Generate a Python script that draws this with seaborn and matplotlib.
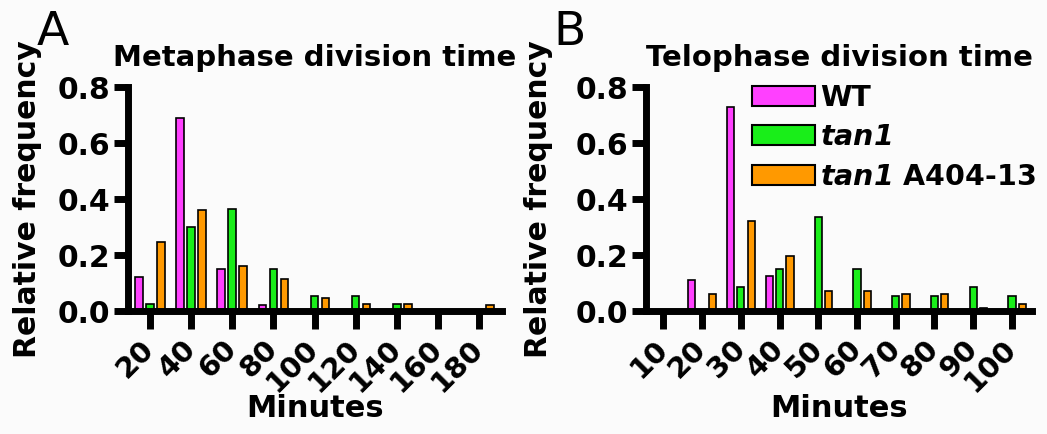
import matplotlib
matplotlib.use('Agg')
import matplotlib.pyplot as plt
import matplotlib.ticker as mticker
import seaborn as sns
import pandas as pd

# -----------------------------
# Data
# -----------------------------
genotypes = ['WT', 'tan1', 'tan1 A404-13']
legend_labels = ['WT', r'$tan1$', r'$tan1$ A404-13']
colors = ['#FF40FF', '#19EE19', '#FF9900']

# A: metaphase
meta_minutes = ['20', '40', '60', '80', '100', '120', '140', '160', '180']
meta_wt = [0.12, 0.69, 0.15, 0.02, 0.0, 0.0, 0.005, 0.0, 0.0]
meta_tan1 = [0.025, 0.30, 0.365, 0.15, 0.055, 0.055, 0.025, 0.0, 0.0]
meta_a404 = [0.245, 0.36, 0.16, 0.115, 0.045, 0.025, 0.025, 0.0, 0.02]

# B: telophase
telo_minutes = ['10', '20', '30', '40', '50', '60', '70', '80', '90', '100']
telo_wt = [0.0, 0.11, 0.73, 0.125, 0.0, 0.005, 0.0, 0.0, 0.0, 0.0]
telo_tan1 = [0.0, 0.0, 0.085, 0.15, 0.335, 0.15, 0.055, 0.055, 0.085, 0.055]
telo_a404 = [0.0, 0.062, 0.32, 0.195, 0.072, 0.072, 0.062, 0.062, 0.012, 0.025]


def long_table(minutes, *series):
    rows = []
    for g, vals in zip(genotypes, series):
        for m, v in zip(minutes, vals):
            rows.append({'Minutes': m, 'freq': v, 'genotype': g})
    return pd.DataFrame(rows)


df_meta = long_table(meta_minutes, meta_wt, meta_tan1, meta_a404)
df_telo = long_table(telo_minutes, telo_wt, telo_tan1, telo_a404)

sns.set_style('ticks')
plt.rcParams['font.family'] = ['DejaVu Sans']
plt.rcParams['font.weight'] = 'bold'
plt.rcParams['text.color'] = 'black'
plt.rcParams['axes.labelcolor'] = 'black'
plt.rcParams['axes.edgecolor'] = 'black'
plt.rcParams['xtick.color'] = 'black'
plt.rcParams['ytick.color'] = 'black'
# italic bold for the gene name (letters and digits) inside $...$
plt.rcParams['mathtext.fontset'] = 'custom'
plt.rcParams['mathtext.it'] = 'DejaVu Sans:italic:bold'
plt.rcParams['mathtext.rm'] = 'DejaVu Sans:italic:bold'

bg = '#fbfbfb'
fig = plt.figure(figsize=(10.47, 4.34), dpi=100, facecolor=bg)
ax_a = fig.add_axes([0.1225, 0.2834, 0.3566, 0.5161])
ax_b = fig.add_axes([0.617, 0.2834, 0.3687, 0.5161])


def draw(ax, df, order, title, xlim, ylab_x, show_legend):
    sns.barplot(data=df, x='Minutes', y='freq', hue='genotype', order=order,
                hue_order=genotypes, palette=colors, saturation=1, width=0.8, gap=0.3,
                edgecolor='black', linewidth=1.2, errorbar=None,
                legend=show_legend, ax=ax)
    ax.set_facecolor(bg)
    ax.set_ylim(0, 0.8)
    ax.set_yticks([0.0, 0.2, 0.4, 0.6, 0.8])
    ax.yaxis.set_major_formatter(mticker.FormatStrFormatter('%.1f'))
    ax.set_xlim(*xlim)
    sns.despine(ax=ax)
    for side in ['left', 'bottom']:
        ax.spines[side].set_linewidth(5)
    ax.tick_params(axis='x', length=13, width=5, labelsize=21, pad=11)
    ax.tick_params(axis='y', length=10, width=5, labelsize=21.5, pad=3)
    for lbl in ax.get_xticklabels():
        lbl.set_rotation(45)
        lbl.set_ha('right')
        lbl.set_va('center')
        lbl.set_rotation_mode('anchor')
    ax.set_title(title, fontsize=21, fontweight='bold', pad=15)
    ax.set_xlabel('Minutes', fontsize=22, fontweight='bold')
    ax.set_ylabel('Relative frequency', fontsize=21.5, fontweight='bold')
    ax.xaxis.set_label_coords(0.5, -0.37)
    ax.yaxis.set_label_coords(ylab_x, 0.5)


draw(ax_a, df_meta, meta_minutes, 'Metaphase division time', (-0.53, 8.55), -0.231, False)
draw(ax_b, df_telo, telo_minutes, 'Telophase division time', (-0.45, 9.52), -0.241, True)

handles, _ = ax_b.get_legend_handles_labels()
leg = ax_b.legend(handles, legend_labels, loc='upper left',
                  bbox_to_anchor=(752 / 1047, 1 - 84 / 434), bbox_transform=fig.transFigure,
                  frameon=False, fontsize=20.5, handlelength=2.2, handleheight=0.7,
                  handletextpad=0.2, labelspacing=0.4, borderpad=0, borderaxespad=0)
for h in leg.legend_handles:
    h.set_edgecolor('black')
    h.set_linewidth(1.5)

fig.text(37 / 1047, 1 - 45 / 434, 'A', fontsize=34, fontweight='normal', va='baseline')
fig.text(553 / 1047, 1 - 45 / 434, 'B', fontsize=34, fontweight='normal', va='baseline')

fig.savefig('out.png', dpi=100, facecolor=bg)
